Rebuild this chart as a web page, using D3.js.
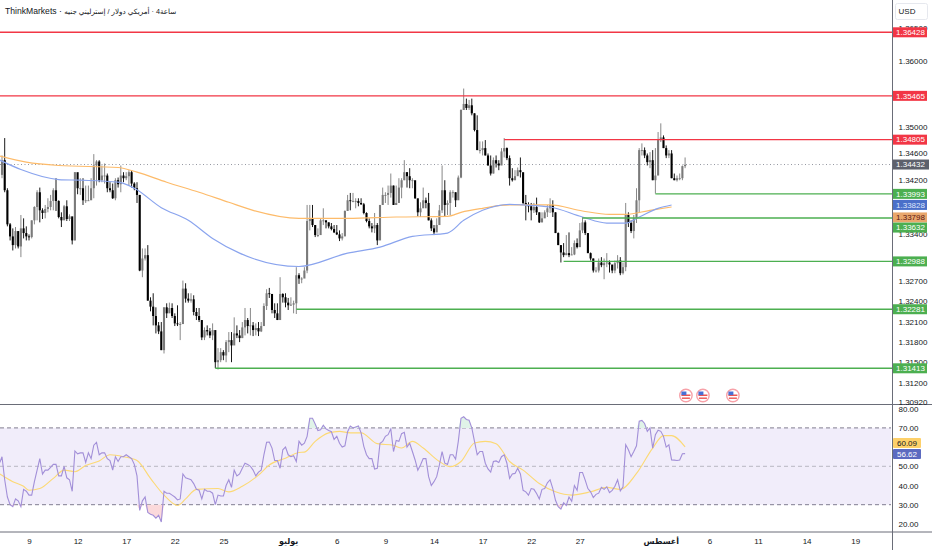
<!DOCTYPE html>
<html>
<head>
<meta charset="utf-8">
<script src="https://cdn.jsdelivr.net/npm/d3@7"></script>
<style>
  body { margin: 0; background: #fff; }
  text { font-family: "Liberation Sans", "DejaVu Sans", sans-serif; }
</style>
</head>
<body>
<div id="chart"></div>
<script>
// the price axis is logarithmic
const y = d3.scaleLog().domain([1.36428, 1.31413]).range([32.3, 368.3]);
// candle prices were read against a straight ruler, in 1/10000 of a dollar
const ruler = d3.scaleLinear().domain([1.36428, 1.31413]).range([32.5, 368]);
const read = v => y.invert(ruler(v / 10000));

const highs = [13459,13485,13410,13358,13350,13352,13340,13370,13365,13353,
  13341,13362,13383,13407,13411,13380,13385,13395,13400,13410,
  13425,13392,13374,13385,13392,13371,13365,13434,13425,13425,
  13425,13414,13414,13425,13461,13452,13452,13444,13447,13432,
  13419,13417,13425,13426,13444,13434,13434,13437,13437,13419,
  13419,13400,13320,13320,13325,13247,13253,13232,13210,13210,
  13232,13238,13239,13238,13223,13235,13210,13272,13268,13253,
  13253,13250,13231,13231,13213,13202,13205,13201,13208,13193,
  13171,13171,13168,13183,13195,13195,13217,13205,13198,13210,
  13231,13216,13231,13210,13208,13210,13210,13238,13259,13261,
  13246,13238,13238,13277,13253,13253,13246,13247,13242,13292,
  13283,13277,13292,13385,13385,13385,13355,13350,13365,13380,
  13362,13359,13358,13355,13355,13347,13343,13377,13400,13403,
  13403,13395,13395,13395,13388,13374,13365,13358,13373,13358,
  13385,13411,13404,13414,13432,13414,13414,13425,13425,13452,
  13434,13440,13425,13411,13385,13389,13411,13396,13403,13365,
  13355,13365,13385,13444,13422,13392,13407,13407,13404,13429,
  13528,13559,13544,13542,13544,13522,13519,13480,13480,13482,
  13462,13459,13456,13459,13452,13470,13485,13471,13459,13440,
  13437,13441,13456,13432,13400,13389,13388,13388,13396,13374,
  13374,13377,13385,13395,13392,13374,13344,13325,13328,13340,
  13344,13322,13332,13335,13358,13367,13362,13343,13314,13305,
  13292,13305,13307,13305,13313,13302,13295,13302,13310,13307,
  13299,13388,13374,13362,13370,13410,13470,13477,13471,13462,
  13464,13467,13470,13494,13507,13489,13474,13467,13467,13432,
  13429,13432,13444,13456].map(read);

const closes = [13452,13407,13356,13338,13325,13346,13323,13350,13343,13338,
  13337,13362,13382,13404,13377,13373,13379,13382,13391,13407,
  13391,13367,13362,13383,13364,13368,13332,13434,13410,13410,
  13392,13392,13392,13410,13444,13450,13422,13429,13429,13410,
  13407,13395,13422,13416,13429,13425,13428,13434,13417,13410,
  13400,13287,13305,13310,13242,13233,13219,13205,13196,13168,
  13232,13223,13231,13219,13208,13207,13207,13260,13245,13242,
  13244,13225,13219,13213,13187,13198,13196,13190,13198,13150,
  13153,13165,13160,13180,13183,13175,13193,13190,13186,13202,
  13213,13204,13205,13198,13201,13196,13204,13234,13253,13252,
  13228,13223,13213,13252,13247,13239,13235,13236,13238,13280,
  13275,13275,13287,13361,13365,13355,13340,13340,13362,13362,
  13359,13353,13349,13344,13341,13335,13338,13376,13392,13391,
  13391,13391,13388,13386,13373,13361,13353,13350,13355,13332,
  13385,13400,13400,13403,13414,13385,13388,13411,13422,13434,
  13428,13422,13422,13395,13374,13380,13392,13388,13362,13350,
  13344,13355,13377,13407,13385,13388,13404,13404,13392,13426,
  13527,13536,13530,13534,13522,13497,13467,13467,13470,13459,
  13444,13432,13452,13447,13444,13465,13470,13455,13425,13422,
  13428,13437,13434,13388,13385,13383,13377,13382,13374,13359,
  13365,13374,13380,13385,13374,13343,13325,13314,13310,13313,
  13310,13311,13328,13322,13347,13359,13343,13313,13305,13287,
  13287,13299,13295,13298,13299,13296,13287,13298,13302,13283,
  13292,13370,13358,13346,13365,13392,13467,13467,13459,13449,
  13452,13422,13429,13482,13486,13470,13459,13462,13425,13422,
  13425,13425,13443,13445].map(read);

const lows = [13425,13404,13353,13332,13317,13320,13320,13307,13335,13332,
  13332,13335,13356,13362,13359,13364,13365,13374,13377,13377,
  13376,13365,13352,13365,13361,13361,13326,13332,13401,13400,
  13385,13388,13391,13401,13395,13414,13419,13419,13417,13404,
  13404,13394,13392,13411,13404,13419,13422,13414,13411,13407,
  13388,13286,13277,13302,13242,13226,13205,13193,13192,13168,
  13163,13216,13225,13216,13204,13204,13183,13207,13239,13239,
  13239,13220,13213,13210,13183,13183,13190,13186,13183,13141,
  13139,13150,13153,13150,13165,13150,13186,13186,13180,13186,
  13190,13193,13190,13189,13190,13189,13195,13205,13228,13246,
  13223,13216,13213,13238,13239,13232,13228,13234,13223,13222,
  13267,13268,13277,13283,13347,13352,13337,13337,13347,13355,
  13350,13350,13347,13343,13340,13331,13332,13343,13377,13377,
  13389,13380,13383,13385,13371,13359,13350,13344,13343,13325,
  13343,13385,13388,13385,13396,13385,13385,13400,13395,13422,
  13411,13410,13410,13394,13368,13367,13385,13380,13362,13346,
  13340,13347,13358,13373,13367,13370,13370,13396,13382,13396,
  13425,13527,13527,13527,13519,13495,13467,13462,13459,13459,
  13444,13429,13432,13441,13437,13452,13456,13452,13414,13420,
  13422,13429,13426,13385,13362,13374,13362,13373,13370,13358,
  13359,13370,13367,13373,13367,13343,13325,13299,13307,13310,
  13307,13310,13310,13320,13322,13343,13340,13313,13302,13284,
  13284,13284,13292,13274,13292,13284,13283,13283,13290,13280,
  13281,13286,13352,13343,13335,13358,13373,13459,13455,13444,
  13440,13422,13402,13464,13479,13470,13455,13455,13425,13422,
  13420,13422,13422,13440].map(read);
const firstOpen = read(13430);

// moving averages: [bar, price as read]
const maBlue = [[-0.8,13452],[7,13438],[21,13423],[29,13422],[43,13419],[49,13410],[59,13381],[69,13362],
  [78,13335],[88,13313],[93,13305],[110,13293],[128,13313],[140,13322],[152,13338],[165,13343],
  [171,13362],[178,13377],[188,13386],[193,13385],[203,13382],[215,13367],[224,13358],[231,13358],
  [236,13367],[243,13380],[248,13385]];
const maOrange = [[-0.8,13458],[9,13449],[21,13444],[43,13441],[50,13434],[61,13419],[73,13404],[84,13389],
  [93,13377],[110,13365],[128,13365],[146,13367],[165,13368],[170,13374],[178,13380],[188,13385],
  [203,13385],[215,13376],[225,13371],[231,13371],[240,13377],[248,13382]];

// [price, first bar]
const redLevels = [[1.36428,-0.8],[1.35465,-0.8],[1.34805,186]];
const greenLevels = [[1.33993,242],[1.33632,215],[1.32988,208],[1.32281,109],[1.31413,79]];
const lastPrice = 1.34432;

const priceTicks = [1.365,1.36,1.35,1.346,1.342,1.334,1.327,1.324,1.321,1.318,1.315,1.312,1.3092];
const rsiTicks = [80,70,50,40,30,20];
const timeBars = [10,28,46,64,82,106,124,142,160,178,196,214,244,262,280,298,316];
const timeLabels = ["9","12","17","22","25","يوليو","6","9","14","17","22","27","أغسطس","6","11","14","19"];
const newsBars = [253.3,259.6,270.7];

const rsi = [55,43,34,30,29,33,32,29,38,37,
  35,35,42,48,54,46,48,48,49.5,51,
  51,45,45,50,44,43,37,58,56.5,57,
  57,52,57,54,61,62.5,56,57,57,54,
  53,48,55,52.5,55,55,56,55,54,51,
  45,27,32,34,26,25,24.5,23,24.5,21,
  37,36,36,35,34,32.5,33,46,44,43.5,
  43,41,38,37.5,33,38,37,37,36,30,
  35,34.5,34.5,40,43,39,48,45,46,49,
  51.6,51,50,48,45,47,48,56,62.5,62.6,
  59.5,53,53,49,58.6,60,56,55,55.5,52.5,
  63,61,62,65.6,75,75,72,68.6,69,71.4,
  69.5,68.6,68,64,65.6,62,60,60.7,68,71,
  70,70.5,71,67.4,60.4,56,54,54,48.6,49,
  62,63,65.6,66.5,69.5,57.7,63.5,63,67,67.7,
  60,62,57.7,53.3,48,50.7,54,54,44.6,40,
  42,44.6,50.7,57.7,51.6,51,56,56,53.7,63,
  75,75.8,74.4,74,70,63,56,57.7,57.7,51.6,
  48.6,47,52.5,52.8,52,55,56,51.6,43.7,46,
  46.3,49,46,37.5,36.7,35,38.4,38,35.8,33,
  38,38.4,41.4,43,38.4,32.3,29,27.7,31,29.6,
  34,31.8,40,37.5,46.8,46.8,42.8,38.4,36.7,33.7,
  35.4,36,39,38,39.3,36.3,37.5,39.6,43,37.2,
  39.3,61.2,58.6,55,57.7,60.7,73.5,73.9,72.3,68.2,
  70,59.5,66.5,68.8,68.2,65.6,60,61.2,53.3,53.2,
  53,53.3,56.5,56.62];
const rsiFirst = 52;

// [bar, value]
const rsiMa = [[-0.8,46],[4,42],[8,39.6],[10,37.5],[14,38.4],[19,43.7],[23,48],[27,47.2],[31,50.4],[36,52.8],[40,56],
  [45,55],[50,53],[55,43.7],[60,35],[65,29.6],[68,33],[72,38],[80,38.4],[84,36.7],[89,39.6],[95,45.4],[99,50.7],
  [105,54.2],[110,57.2],[112,57.4],[116,63],[121,67.4],[125,68.2],[129,67.4],[133,67.4],[139,61.8],[145,60.9],
  [148,59.5],[152,63],[156,59.5],[162,52.5],[166,49.8],[170,52.5],[175,62.1],[179,63],[183,61.8],[188,52.5],
  [193,48],[199,41],[205,36.7],[211,35],[218,36.7],[224,39],[229,38],[235,46.3],[241,59.5],[245,66],[248,66],[253,60.09]];

const width = 932, height = 550;
const paneRight = 892.5, priceBottom = 404.5, rsiBottom = 532;
const inkColor = "#131722";

const svg = d3.select("#chart").append("svg")
  .attr("width", width).attr("height", height)
  .style("display", "block");

const x = d3.scaleLinear().domain([0, 253]).range([2, 685.1]);
const yRsi = d3.scaleLinear().domain([50, 30]).range([466.3, 504.7]);

svg.append("clipPath").attr("id", "price-clip").append("rect")
  .attr("width", paneRight).attr("height", priceBottom);

const pricePane = svg.append("g").attr("clip-path", "url(#price-clip)");

// last price
pricePane.append("line")
  .attr("x1", 0).attr("x2", paneRight)
  .attr("y1", y(lastPrice)).attr("y2", y(lastPrice))
  .attr("stroke", "#9598a1").attr("stroke-dasharray", "1,2.5");

// candles
const openOf = i => i ? closes[i - 1] : firstOpen;
const candleColor = i => closes[i] >= openOf(i) ? "#7a7a7a" : "#000";
const candles = pricePane.append("g").style("filter", "blur(0.35px)")
  .selectAll(".candle").data(closes).enter().append("g").attr("class", "candle");
candles.append("line")
  .attr("x1", (d, i) => x(i)).attr("x2", (d, i) => x(i))
  .attr("y1", (d, i) => y(highs[i])).attr("y2", (d, i) => y(lows[i]))
  .attr("stroke", (d, i) => candleColor(i)).attr("stroke-width", 0.9);
candles.append("rect")
  .attr("x", (d, i) => x(i) - 1.05).attr("width", 2.1)
  .attr("y", (d, i) => Math.min(y(d), y(openOf(i))))
  .attr("height", (d, i) => Math.max(0.9, Math.abs(y(d) - y(openOf(i)))))
  .attr("fill", (d, i) => candleColor(i));

// moving averages
const maLine = d3.line().x(d => x(d[0])).y(d => y(read(d[1]))).curve(d3.curveMonotoneX);
pricePane.append("path").attr("d", maLine(maOrange)).attr("fill", "none")
  .attr("stroke", "#fdbb6a").attr("stroke-width", 1.2);
pricePane.append("path").attr("d", maLine(maBlue)).attr("fill", "none")
  .attr("stroke", "#8aa4ee").attr("stroke-width", 1.2);

// horizontal levels
const drawLevels = (data, color) => {
  pricePane.selectAll(null).data(data).enter().append("line")
    .attr("x1", d => x(d[1])).attr("x2", paneRight)
    .attr("y1", d => y(d[0])).attr("y2", d => y(d[0]))
    .attr("stroke", color).attr("stroke-width", 1.4);
};
drawLevels(redLevels, "#f23645");
drawLevels(greenLevels, "#4caf50");

// news flags
const flags = pricePane.selectAll(".flag").data(newsBars).enter().append("g")
  .attr("class", "flag")
  .attr("transform", d => `translate(${x(d)},395.5)`);
flags.append("circle").attr("r", 6.2).attr("fill", "#fff").attr("stroke", "#f7a1a8").attr("stroke-width", 1.4);
flags.append("rect").attr("x", -4.5).attr("y", -1).attr("width", 9).attr("height", 1.5).attr("fill", "#ef5350");
flags.append("rect").attr("x", -4).attr("y", 2).attr("width", 8).attr("height", 1.4).attr("fill", "#ef5350");
flags.append("rect").attr("x", -4.5).attr("y", -4).attr("width", 5).attr("height", 3.6).attr("fill", "#4a6fd4");

// RSI pane
svg.append("rect")
  .attr("x", 0).attr("width", paneRight - 1.5)
  .attr("y", yRsi(70)).attr("height", yRsi(30) - yRsi(70))
  .attr("fill", "#f1edfa");

[70, 50, 30].forEach(v => {
  svg.append("line")
    .attr("x1", 0).attr("x2", paneRight - 1.5)
    .attr("y1", yRsi(v)).attr("y2", yRsi(v))
    .attr("stroke", v == 50 ? "#b9b7c2" : "#807d90")
    .attr("stroke-dasharray", "4,3");
});

const rsiPoints = [[-0.8, rsiFirst]].concat(rsi.map((d, i) => [i, d]));
const below30 = d3.area().x(d => x(d[0])).y0(yRsi(30)).y1(d => yRsi(Math.min(d[1], 30)));
const above70 = d3.area().x(d => x(d[0])).y0(yRsi(70)).y1(d => yRsi(Math.max(d[1], 70)));
svg.append("path").attr("d", below30(rsiPoints)).attr("fill", "#fbd9db");
svg.append("path").attr("d", above70(rsiPoints)).attr("fill", "#e0f3e8");

svg.append("path")
  .attr("d", d3.line().x(d => x(d[0])).y(d => yRsi(d[1])).curve(d3.curveMonotoneX)(rsiMa))
  .attr("fill", "none").attr("stroke", "#fcd974").attr("stroke-width", 1.1);
svg.append("path")
  .attr("d", d3.line().x(d => x(d[0])).y(d => yRsi(d[1]))(rsiPoints))
  .attr("fill", "none").attr("stroke", "#a28fd8").attr("stroke-width", 1.1);

// frame
svg.append("line").attr("x1", paneRight).attr("x2", paneRight).attr("y1", 0).attr("y2", height)
  .attr("stroke", "#6a6d78").attr("stroke-width", 1);
[priceBottom, rsiBottom].forEach(p => {
  svg.append("line").attr("x1", 0).attr("x2", width).attr("y1", p).attr("y2", p)
    .attr("stroke", "#6a6d78").attr("stroke-width", 1);
});

// axes
const priceAxis = svg.append("g")
  .attr("transform", `translate(${paneRight},0)`)
  .call(d3.axisRight(y).tickValues(priceTicks).tickSize(0).tickPadding(6).tickFormat(d3.format(".5f")));
const rsiAxis = svg.append("g")
  .attr("transform", `translate(${paneRight},0)`)
  .call(d3.axisRight(yRsi).tickValues(rsiTicks).tickSize(0).tickPadding(6).tickFormat(d3.format(".2f")));
const timeAxis = svg.append("g")
  .attr("transform", `translate(0,${rsiBottom + 2})`)
  .call(d3.axisBottom(x).tickValues(timeBars).tickSize(0).tickPadding(4).tickFormat((d, i) => timeLabels[i]));

[priceAxis, rsiAxis, timeAxis].forEach(a => {
  a.select(".domain").remove();
  a.selectAll("text").attr("fill", inkColor).style("font-size", "8px")
    .style("font-family", '"Liberation Sans", "DejaVu Sans", sans-serif');
});
timeAxis.selectAll("text")
  .style("font-weight", (d, i) => isNaN(timeLabels[i]) ? "bold" : "normal");

// axis price labels: [text, colour, ink, value, nudge where they would overlap]
const priceLabels = [
  ["1.36428", "#f23645", "#fff", 1.36428, 0],
  ["1.35465", "#f23645", "#fff", 1.35465, 0],
  ["1.34805", "#f23645", "#fff", 1.34805, 0],
  ["1.34432", "#5d606b", "#fff", 1.34432, 0],
  ["1.33993", "#4caf50", "#fff", 1.33993, 0],
  ["1.33828", "#4a6fc9", "#dfe6fb", 1.33828, 0],
  ["1.33798", "#e9a76c", "#5a1512", 1.33798, 10.5],
  ["1.33632", "#4caf50", "#fff", 1.33632, 9.5],
  ["1.32988", "#4caf50", "#fff", 1.32988, 0],
  ["1.32281", "#4caf50", "#fff", 1.32281, 0],
  ["1.31413", "#4caf50", "#fff", 1.31413, 0]
];
const labelGroups = svg.selectAll(".price-label").data(priceLabels).enter().append("g")
  .attr("class", "price-label")
  .attr("transform", d => `translate(893,${y(d[3]) + d[4]})`);
labelGroups.append("rect")
  .attr("y", -5).attr("height", 10)
  .attr("width", d => d[0] == "1.34432" ? 36 : 34)
  .attr("fill", d => d[1]);
labelGroups.append("text")
  .attr("x", 17.5).attr("y", 0).attr("dy", "0.34em").attr("text-anchor", "middle")
  .style("font-size", "8px").attr("fill", d => d[2])
  .text(d => d[0]);

const rsiLabels = [["60.09", "#fdd06a", inkColor, 60.09, -4], ["56.62", "#5c6bc0", "#fff", 56.62, 0.4]];
const rsiLabelGroups = svg.selectAll(".rsi-label").data(rsiLabels).enter().append("g")
  .attr("class", "rsi-label")
  .attr("transform", d => `translate(893,${yRsi(d[3]) + d[4]})`);
rsiLabelGroups.append("rect").attr("y", -5).attr("height", 10).attr("width", 28).attr("rx", 1).attr("fill", d => d[1]);
rsiLabelGroups.append("text")
  .attr("x", 14).attr("dy", "0.34em").attr("text-anchor", "middle")
  .style("font-size", "8px").attr("fill", d => d[2])
  .text(d => d[0]);

// currency box
svg.append("rect").attr("x", 895.5).attr("y", 3.5).attr("width", 32).attr("height", 16).attr("rx", 2)
  .attr("fill", "#fff").attr("stroke", "#e6e8ee");
svg.append("text").attr("x", 907).attr("y", 11.5).attr("dy", "0.34em").attr("text-anchor", "middle")
  .style("font-size", "8px").attr("fill", inkColor).text("USD");

// title, the marks keep the Arabic words in left to right order as in the source
const title = svg.append("text").attr("x", 5).attr("y", 11).attr("dy", "0.34em")
  .style("font-size", "8.6px").attr("fill", inkColor);
title.append("tspan").text("ThinkMarkets · ");
title.append("tspan").style("font-size", "7.2px")
  .text("\u200Eجنيه\u200E إسترليني\u200E / \u200Eدولار\u200E أمريكي\u200E · \u200E4\u200Eساعة");
</script>
</body>
</html>
